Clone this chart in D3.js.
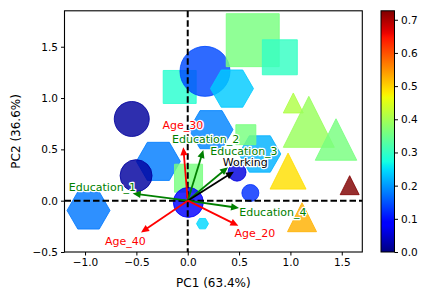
<!DOCTYPE html>
<html><head><meta charset="utf-8">
<script src="https://cdn.jsdelivr.net/npm/d3@7"></script>
<style>body{margin:0;background:#fff}svg{display:block}text{font-family:"DejaVu Sans",sans-serif}</style>
</head><body><svg id="c" width="435" height="300"></svg>
<script>
// ---- data (draw order) ----
const pc1 = [-0.078, 0.168, 0.633, 0.897, 0.431, 0.227, -0.286, -0.545, -0.503, -0.966, 0.008, 0.006, 0.144, 0.702, 0.566, 0.48, 0.61, 0.977, 1.577, 1.113, 1.028, 1.179, 1.444];
const pc2 = [1.108, 1.26, 1.564, 1.397, 1.092, 0.692, 0.383, 0.796, 0.244, -0.095, 0.219, -0.017, -0.224, 0.455, 0.643, 0.278, 0.075, 0.288, 0.151, -0.161, 0.952, 0.768, 0.596];
const colorValue = [0.29, 0.143, 0.36, 0.30, 0.235, 0.185, 0.18, 0.018, 0.02, 0.176, 0.36, 0.08, 0.245, 0.218, 0.36, 0.06, 0.125, 0.49, 0.727, 0.525, 0.41, 0.39, 0.36];
const sizeValue = [1089, 2500, 2809, 1225, 1849, 1936, 1936, 1225, 1024, 1849, 784, 900, 144, 1764, 400, 324, 289, 1296, 361, 841, 400, 2601, 1722];
const group = ["square","circle","square","square","hexagon","hexagon","hexagon","circle","circle","hexagon","square","circle","hexagon","hexagon","square","circle","circle","triangle","triangle","triangle","triangle","triangle","triangle"];

const loadingNames = ["Age_30","Education_2","Education_3","Working","Education_1","Education_4","Age_20","Age_40"];
const loadingX = [-0.043, 0.152, 0.392, 0.45, -0.536, 0.5, 0.493, -0.455];
const loadingY = [0.52, 0.494, 0.326, 0.283, 0.071, -0.071, -0.244, -0.309];
const labelX = [-0.047, 0.175, 0.548, 0.56, -0.83, 0.829, 0.655, -0.606];
const labelY = [0.731, 0.595, 0.48, 0.373, 0.13, -0.114, -0.315, -0.397];

const xTicks = [-1.0, -0.5, 0.0, 0.5, 1.0, 1.5];
const yTicks = [-0.5, 0.0, 0.5, 1.0, 1.5];
const cbTicks = [0.0, 0.1, 0.2, 0.3, 0.4, 0.5, 0.6, 0.7];
const xLabel = "PC1 (63.4%)", yLabel = "PC2 (36.6%)";

// ---- setup ----
const svg = d3.select("#c");
const L = 64.5, R = 362.3, T = 10.8, B = 252;
const x = d3.scaleLinear().domain([-1.2, 1.7]).range([L, R]);
const y = d3.scaleLinear().domain([-0.5, 1.85]).range([B, T]);
const vmax = d3.max(colorValue);
const sz = d3.scaleSqrt().domain([0, 2500]).range([0, 50]);

function interp(pts, t){
  for (let i=1;i<pts.length;i++){ if (t<=pts[i][0]){ const a=pts[i-1], b=pts[i]; return a[1]+(b[1]-a[1])*(t-a[0])/(b[0]-a[0]); } }
  return pts[pts.length-1][1];
}
const jR=[[0,0],[0.35,0],[0.66,1],[0.89,1],[1,0.5]];
const jG=[[0,0],[0.125,0],[0.375,1],[0.64,1],[0.91,0],[1,0]];
const jB=[[0,0.5],[0.11,1],[0.34,1],[0.65,0],[1,0]];
function jet(t){ t=Math.max(0,Math.min(1,t)); return d3.rgb(255*interp(jR,t),255*interp(jG,t),255*interp(jB,t)).formatHex(); }
const cscale = v => jet(v / vmax);

svg.append("defs").append("clipPath").attr("id","clip").append("rect").attr("x",L).attr("y",T).attr("width",R-L).attr("height",B-T);

const plot = svg.append("g").attr("clip-path","url(#clip)");

function shapePath(g, D){
  const r = D/2;
  if (g==="circle") return d3.arc()({innerRadius:0,outerRadius:r,startAngle:0,endAngle:2*Math.PI});
  if (g==="square") return `M${-r},${-r}H${r}V${r}H${-r}Z`;
  if (g==="triangle") return `M0,${-r}L${r},${r}L${-r},${r}Z`;
  const pts = d3.range(6).map(i=>[r*Math.cos(i*Math.PI/3), r*Math.sin(i*Math.PI/3)]);
  return "M"+pts.map(p=>p.join(",")).join("L")+"Z";
}

plot.selectAll("path.m").data(d3.range(pc1.length)).join("path")
  .attr("class","m")
  .attr("transform", i=>`translate(${x(pc1[i])},${y(pc2[i])})`)
  .attr("d", i=>shapePath(group[i], sz(sizeValue[i])))
  .attr("fill", i=>cscale(colorValue[i])).attr("fill-opacity",0.82)
  .attr("stroke", i=>cscale(colorValue[i])).attr("stroke-opacity",0.82).attr("stroke-width",1);

// dashed zero lines
plot.append("line").attr("x1",L).attr("x2",R).attr("y1",y(0)).attr("y2",y(0))
  .attr("stroke","#000").attr("stroke-width",2).attr("stroke-dasharray","6.5,3");
plot.append("line").attr("x1",x(0)).attr("x2",x(0)).attr("y1",T).attr("y2",B)
  .attr("stroke","#000").attr("stroke-width",2).attr("stroke-dasharray","6.5,3");

// loading arrows
const arrowColor = n => n.startsWith("Age") ? "#ff0000" : n.startsWith("Education") ? "#008000" : "#000000";
const x0 = x(0), y0 = y(0);
loadingNames.forEach((n,i)=>{
  const x1 = x(loadingX[i]), y1 = y(loadingY[i]);
  const dx = x1-x0, dy = y1-y0, len = Math.hypot(dx,dy), ux = dx/len, uy = dy/len;
  const hl = 8, hw = 3.6;
  const bx = x1-ux*hl, by = y1-uy*hl;
  const c = arrowColor(n);
  plot.append("line").attr("x1",x0).attr("y1",y0).attr("x2",bx+ux*1).attr("y2",by+uy*1)
    .attr("stroke",c).attr("stroke-width",1.8);
  plot.append("path").attr("d",`M${x1},${y1}L${bx-uy*hw},${by+ux*hw}L${bx+uy*hw},${by-ux*hw}Z`).attr("fill",c);
});
loadingNames.forEach((n,i)=>{
  plot.append("text").attr("x",x(labelX[i])).attr("y",y(labelY[i]))
    .attr("text-anchor","middle").attr("dominant-baseline","central")
    .attr("font-size","11px").attr("fill",arrowColor(n))
    .attr("stroke","#fff").attr("stroke-width",2.5).attr("paint-order","stroke").attr("stroke-linejoin","round")
    .text(n);
});

// axes
const fmt = d3.format(".1f");
const ax = svg.append("g").attr("transform",`translate(0,${B})`).call(d3.axisBottom(x).tickValues(xTicks).tickSize(3.5).tickPadding(3).tickFormat(fmt));
const ay = svg.append("g").attr("transform",`translate(${L},0)`).call(d3.axisLeft(y).tickValues(yTicks).tickSize(3.5).tickPadding(3).tickFormat(fmt));
[ax,ay].forEach(a=>{ a.select(".domain").remove(); a.selectAll("line").attr("stroke","#000").attr("stroke-width",1);
  a.selectAll("text").attr("font-size","10.5px").attr("fill","#000").attr("font-family","DejaVu Sans"); });
svg.append("rect").attr("x",L).attr("y",T).attr("width",R-L).attr("height",B-T).attr("fill","none").attr("stroke","#000").attr("stroke-width",1.1);

svg.append("text").attr("x",(L+R)/2).attr("y",287).attr("text-anchor","middle").attr("font-size","12px").text(xLabel);
svg.append("text").attr("transform",`translate(20,${(T+B)/2}) rotate(-90)`).attr("text-anchor","middle").attr("font-size","12px").text(yLabel);

// colorbar
const cbX = 381, cbW = 13.5;
const cy = d3.scaleLinear().domain([0, vmax]).range([B, T]);
const grad = svg.select("defs").append("linearGradient").attr("id","jet").attr("x1",0).attr("y1",1).attr("x2",0).attr("y2",0);
d3.range(0,1.0001,1/64).forEach(t=>grad.append("stop").attr("offset",t).attr("stop-color",jet(t)));
svg.append("rect").attr("x",cbX).attr("y",T).attr("width",cbW).attr("height",B-T).attr("fill","url(#jet)").attr("stroke","#000").attr("stroke-width",1);
const ac = svg.append("g").attr("transform",`translate(${cbX+cbW},0)`).call(d3.axisRight(cy).tickValues(cbTicks).tickSize(3.5).tickPadding(3).tickFormat(fmt));
ac.select(".domain").remove();
ac.selectAll("line").attr("stroke","#000");
ac.selectAll("text").attr("font-size","10.5px").attr("fill","#000").attr("font-family","DejaVu Sans");
</script></body></html>
